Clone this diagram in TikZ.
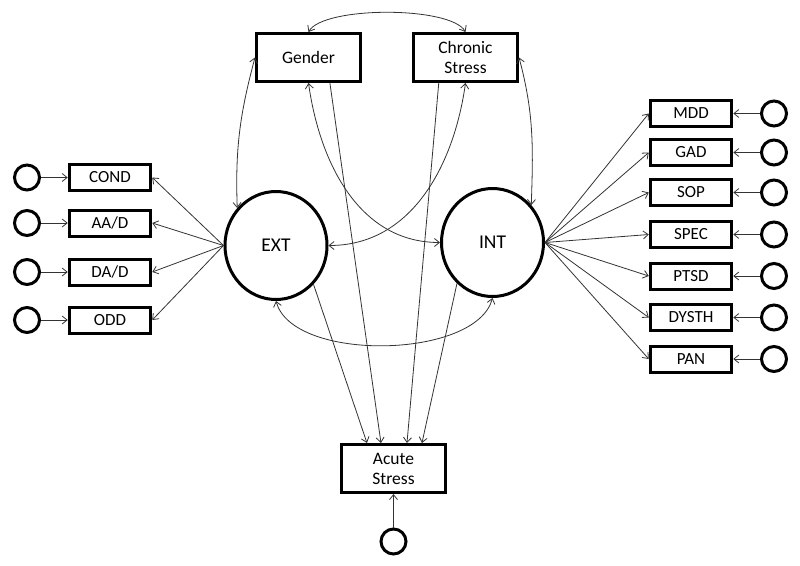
\documentclass[tikz,border=0pt]{standalone}
\usepackage{fontspec}
\setmainfont{Carlito}
\usetikzlibrary{arrows.meta,shapes.geometric,calc}
\begin{document}
\begin{tikzpicture}[x=1pt,y=1pt,
  box/.style={draw=black,line width=3pt,rectangle,inner sep=0pt,align=center,font=\fontsize{17.5}{20}\selectfont},
  bigbox/.style={box,minimum width=104pt,minimum height=48pt},
  ind/.style={box,minimum width=81.5pt,minimum height=26pt,font=\fontsize{17}{20}\selectfont},
  lat/.style={draw=black,line width=3pt,ellipse,minimum width=102pt,minimum height=108pt,inner sep=0pt,font=\fontsize{19.5}{22}\selectfont},
  err/.style={draw=black,line width=3pt,circle,minimum size=25pt,inner sep=0pt},
  conn/.style={draw=black!80,line width=0.8pt,-{Straight Barb[length=5pt,width=8pt]}},
  dconn/.style={conn,{Straight Barb[length=5pt,width=8pt]}-{Straight Barb[length=5pt,width=8pt]}}
]
\useasboundingbox (0,0) rectangle (800,-565);

% main nodes
\node[bigbox] (G) at (308.5,-57.5) {Gender};
\node[bigbox] (C) at (465.5,-57.5) {Chronic\\Stress};
\node[bigbox] (A) at (393.5,-468.5) {Acute\\Stress};
\node[lat] (EXT) at (276,-245.5) {EXT};
\node[lat] (INT) at (492.5,-242.5) {INT};
\node[err] (eA) at (393.5,-541.5) {};

% left indicators
\node[ind] (cond) at (110,-177.5) {COND};
\node[ind] (aad) at (110,-223) {AA/D};
\node[ind] (dad) at (110,-272) {DA/D};
\node[ind] (odd) at (110,-320) {ODD};
\node[err] (ecnd) at (27,-177.5) {};
\node[err] (eaad) at (27,-223) {};
\node[err] (edad) at (27,-272) {};
\node[err] (eodd) at (27,-320) {};

% right indicators
\node[ind] (mdd) at (691,-113.5) {MDD};
\node[ind] (gad) at (691,-152.5) {GAD};
\node[ind] (sop) at (691,-192.5) {SOP};
\node[ind] (spec) at (691,-234.5) {SPEC};
\node[ind] (ptsd) at (691,-276) {PTSD};
\node[ind] (dys) at (691,-317.5) {DYSTH};
\node[ind] (pan) at (691,-359) {PAN};
\node[err] (emdd) at (774,-113.5) {};
\node[err] (egad) at (774,-152.5) {};
\node[err] (esop) at (774,-192.5) {};
\node[err] (espec) at (774,-234.5) {};
\node[err] (eptsd) at (774,-276) {};
\node[err] (edys) at (774,-317.5) {};
\node[err] (epan) at (774,-359) {};

% loadings
\foreach \n in {cond,aad,dad,odd}{\draw[conn] (EXT.west) -- (\n.east);}
\foreach \n in {mdd,gad,sop,spec,ptsd,dys,pan}{\draw[conn] (INT.east) -- (\n.west);}

% errors
\draw[conn] (ecnd) -- (cond);
\draw[conn] (eaad) -- (aad);
\draw[conn] (edad) -- (dad);
\draw[conn] (eodd) -- (odd);
\foreach \n/\e in {mdd/emdd,gad/egad,sop/esop,spec/espec,ptsd/eptsd,dys/edys,pan/epan}{\draw[conn] (\e) -- (\n);}
\draw[conn] (eA) -- (A);

% covariances
\draw[dconn] (G.north) .. controls +(15,26) and +(-15,26) .. (C.north);
\draw[dconn] (G.west) to[out=255,in=92] (EXT.136);
\draw[dconn] (C.east) to[out=285,in=88] (INT.44);
\draw[dconn] (G.south) to[out=-82,in=180] (INT.west);
\draw[dconn] (C.south) to[out=-98,in=0] (EXT.east);
\draw[dconn] (EXT.south) to[out=-75,in=-105,looseness=0.75] (INT.south);

% paths to acute stress
\draw[conn] (EXT.-46) -- ($(A.north west)!0.252!(A.north east)$);
\draw[conn] ($(G.south west)!0.70!(G.south east)$) -- ($(A.north west)!0.383!(A.north east)$);
\draw[conn] ($(C.south west)!0.25!(C.south east)$) -- ($(A.north west)!0.626!(A.north east)$);
\draw[conn] (INT.-131) -- ($(A.north west)!0.766!(A.north east)$);
\end{tikzpicture}
\end{document}
